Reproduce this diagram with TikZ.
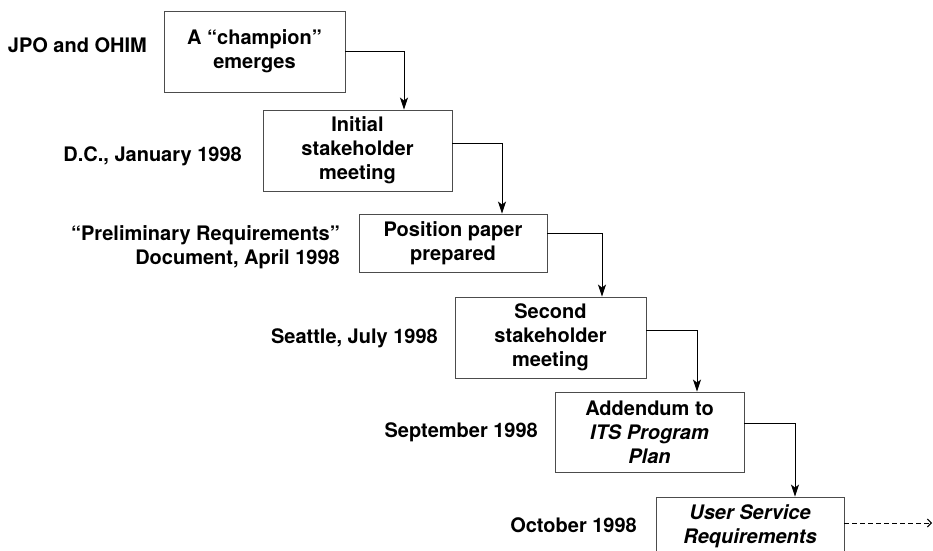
\documentclass[tikz,border=0pt]{standalone}
\usepackage{fontspec}
\setmainfont{TeX Gyre Heros}
\usetikzlibrary{arrows.meta}
\begin{document}
\begin{tikzpicture}[x=1pt,y=-1pt,
  every node/.style={font=\fontsize{20}{24}\selectfont\bfseries},
  box/.style={draw=black!70, line width=0.9pt, inner sep=0pt, align=center},
  when/.style={anchor=mid east, inner sep=0pt},
  flow/.style={draw=black, line width=1pt, -{Stealth[length=12pt,width=8pt,inset=3pt]}},
  later/.style={draw=black, line width=1pt, dash pattern=on 5pt off 3pt,
                -{Straight Barb[length=4pt,width=8pt]}}
]
\useasboundingbox (0,0) rectangle (933,550);
\clip (0,0) rectangle (933,550);

% milestone boxes
\node[box, minimum width=181, minimum height=81] (b1) at (254.5,51.5) {A “champion”\\emerges};
\node[box, minimum width=189, minimum height=81] (b2) at (357.5,150.5) {Initial\\stakeholder\\meeting};
\node[box, minimum width=188, minimum height=58] (b3) at (453,243) {Position paper\\prepared};
\node[box, minimum width=191, minimum height=81] (b4) at (550.5,337.5) {Second\\stakeholder\\meeting};
\node[box, minimum width=189, minimum height=80] (b5) at (649.5,432) {Addendum to\\\textit{ITS Program}\\\textit{Plan}};
\node[box, minimum width=188, minimum height=58] (b6) at (750,526) {\textit{User Service}\\\textit{Requirements}};

% where and when
\node[when] (w1) at (147,50) {JPO and OHIM};
\node[when] (w2) at (242,159) {D.C., January 1998};
\node[anchor=east, inner sep=0pt, align=right] (w3) at (340,247) {“Preliminary Requirements”\\Document, April 1998};
\node[when] (w4) at (438,341) {Seattle, July 1998};
\node[when] (w5) at (538,435) {September 1998};
\node[when] (w6) at (637,530) {October 1998};

% drop columns of the connectors
\coordinate (d1) at (404,0);
\coordinate (d2) at (502,0);
\coordinate (d3) at (602,0);
\coordinate (d4) at (697,0);
\coordinate (d5) at (795,0);
\coordinate (beyond) at (932,523);

\draw[flow] (b1.east) -| (d1 |- b2.north);
\draw[flow] ([yshift=7.5pt]b2.east) -| (d2 |- b3.north);
\draw[flow] ([yshift=10pt]b3.east) -| (d3 |- b4.north);
\draw[flow] ([yshift=7.5pt]b4.east) -| (d4 |- b5.north);
\draw[flow] ([yshift=9pt]b5.east) -| (d5 |- b6.north);
\draw[later] (b6.east |- beyond) -- (beyond);
\end{tikzpicture}
\end{document}
